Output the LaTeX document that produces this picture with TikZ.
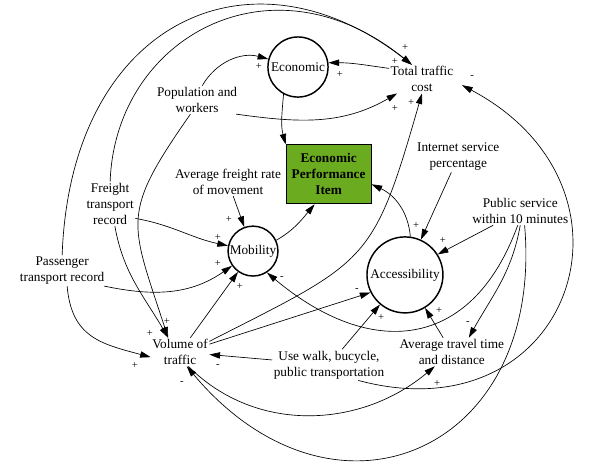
\documentclass[tikz,border=0pt]{standalone}
\usepackage{fontspec}
\setmainfont{Liberation Serif}
\usetikzlibrary{calc, arrows.meta}
\definecolor{epigreen}{RGB}{107,171,31}

\begin{document}
\begin{tikzpicture}[>={Triangle[length=8pt, width=4.8pt]}]
\tikzstyle{circ} = [circle, draw=black, line width=1.1pt, inner sep=0pt]
\tikzstyle{txt} = [align=center, inner sep=1pt]
\tikzstyle{epibox} = [rectangle, draw=black, line width=.6pt, fill=epigreen, minimum width=2.25cm, minimum height=1.56cm, align=center, font=\bfseries]
\tikzstyle{sgn} = [inner sep=0pt, font=\footnotesize]
\tikzstyle{link} = [->, line width=.5pt]

\useasboundingbox (-7.884,1.773) rectangle (7.990,-10.477);

\node (econ) [circ, minimum size=1.59cm] {Economic};
\node (cost) [txt, right of=econ, xshift=2.28cm, yshift=-.32cm] {Total traffic\\cost};
\node (pop) [txt, left of=econ, xshift=-1.67cm, yshift=-.87cm] {Population and\\workers};
\node (epi) [epibox, below of=econ, xshift=.81cm, yshift=-1.84cm] {Economic\\Performance\\Item};
\node (frate) [txt, left of=epi, xshift=-1.66cm, yshift=-.2cm] {Average freight rate\\of movement};
\node (mob) [circ, minimum size=1.32cm, below of=frate, xshift=.66cm, yshift=-.83cm] {Mobility};
\node (frec) [txt, left of=frate, xshift=-2.12cm, yshift=-.58cm] {Freight\\transport\\record};
\node (internet) [txt, right of=epi, xshift=2.43cm, yshift=.46cm] {Internet service\\percentage};
\node (pub) [txt, below of=internet, xshift=1.64cm, yshift=-.43cm] {Public service\\within 10 minutes};
\node (acc) [circ, minimum size=2.01cm, below of=epi, xshift=2.02cm, yshift=-1.66cm] {Accessibility};
\node (pass) [txt, below of=frec, xshift=-1.27cm, yshift=-.77cm] {Passenger\\transport record};
\node (vol) [txt, below of=mob, xshift=-1.93cm, yshift=-1.67cm] {Volume of\\traffic};
\node (walk) [txt, right of=vol, xshift=2.94cm, yshift=-.34cm] {Use walk, bucycle,\\public transportation};
\node (travel) [txt, right of=walk, xshift=2.25cm, yshift=.34cm] {Average travel time\\and distance};

% polarity signs
\node (s1) [sgn] at (-1.032, .026) {+};
\node (s2) [sgn] at (1.111, -.185) {+};
\node (s3) [sgn] at (2.831, .529) {+};
\node (s4) [sgn] at (2.566, .159) {+};
\node (s5) [sgn] at (2.566, -1.085) {+};
\node (s6) [sgn] at (2.990, -.952) {+};
\node (s7) [sgn] at (4.604, -.265) {-};
\node (s8) [sgn] at (-1.826, -4.022) {+};
\node (s9) [sgn] at (-2.117, -4.498) {+};
\node (s10) [sgn] at (-2.117, -5.186) {+};
\node (s11) [sgn] at (-1.535, -5.794) {+};
\node (s12) [sgn] at (-.423, -5.583) {-};
\node (s13) [sgn] at (3.122, -4.180) {+};
\node (s14) [sgn] at (3.836, -4.577) {+};
\node (s15) [sgn] at (1.561, -5.900) {-};
\node (s16) [sgn] at (2.196, -6.615) {+};
\node (s17) [sgn] at (3.731, -6.429) {+};
\node (s18) [sgn] at (4.498, -6.773) {-};
\node (s19) [sgn] at (3.678, -8.361) {+};
\node (s20) [sgn] at (-3.466, -6.720) {+};
\node (s21) [sgn] at (-3.916, -7.038) {+};
\node (s22) [sgn] at (-4.313, -7.884) {+};
\node (s23) [sgn] at (-2.117, -7.911) {-};
\node (s24) [sgn] at (-3.069, -8.361) {-};

% links into Economic and the item
\draw[link] (pop.70) to[out=60, in=165] (econ);
\draw[link] (cost.162) to[out=172, in=0] (econ.8);
\draw[link] (econ.242) to[out=265, in=105] (epi.north west);
\draw[link] (mob.25) to[out=30, in=230] (epi.-115);
\draw[link] (acc.82) to[out=95, in=-25] (epi.-13);

% links into Total traffic cost
\draw[link] (pop.-20) to[out=-8, in=210] (cost);
\draw[link] (vol.20) to[out=27, in=-106, looseness=1.4] (cost.south);
\draw[link] (pass.north) to[out=88, in=142, out distance=6.2cm, in distance=5.4cm] (cost.125);
\draw[link] (frec.north) to[out=88, in=141, out distance=3.8cm, in distance=4.8cm] (cost.125);
\draw[link] (walk.-28) to[out=-15, in=-28, looseness=1.8] ($(cost.east) + (.19, -.16)$);

% links into Mobility
\draw[link] (frate) -- (mob);
\draw[link] (frec.-30) to[out=-10, in=168] (mob);
\draw[link] (pass.-20) to[out=-12, in=215] (mob);
\draw[link] (vol) -- (mob);
\draw[link] (pub.-100) to[out=250, in=-40, looseness=1.35] (mob.-57);

% links into Accessibility
\draw[link] (internet) -- (acc);
\draw[link] (pub) -- (acc.32);
\draw[link] (vol.15) -- (acc.207);
\draw[link] (walk) -- (acc);
\draw[link] (travel) -- (acc);

% links into Volume of traffic
\draw[link] (frec.-78) to[out=-80, in=120] (vol.130);
\draw[link] (pop.-115) to[out=235, in=108, looseness=1.4] (vol.130);
\draw[link] (pass.-72) to[out=-85, in=165, looseness=1.2] (vol.190);
\draw[link] (walk) -- (vol);
\draw[link] (pub.-73) to[out=-85, in=-50, looseness=1.6] (vol.-65);

% links into Average travel time
\draw[link] (pub.-90) to[out=-100, in=61] (travel.40);
\draw[link] (vol.-60) to[out=-45, in=220] (travel.-140);

\end{tikzpicture}
\end{document}
